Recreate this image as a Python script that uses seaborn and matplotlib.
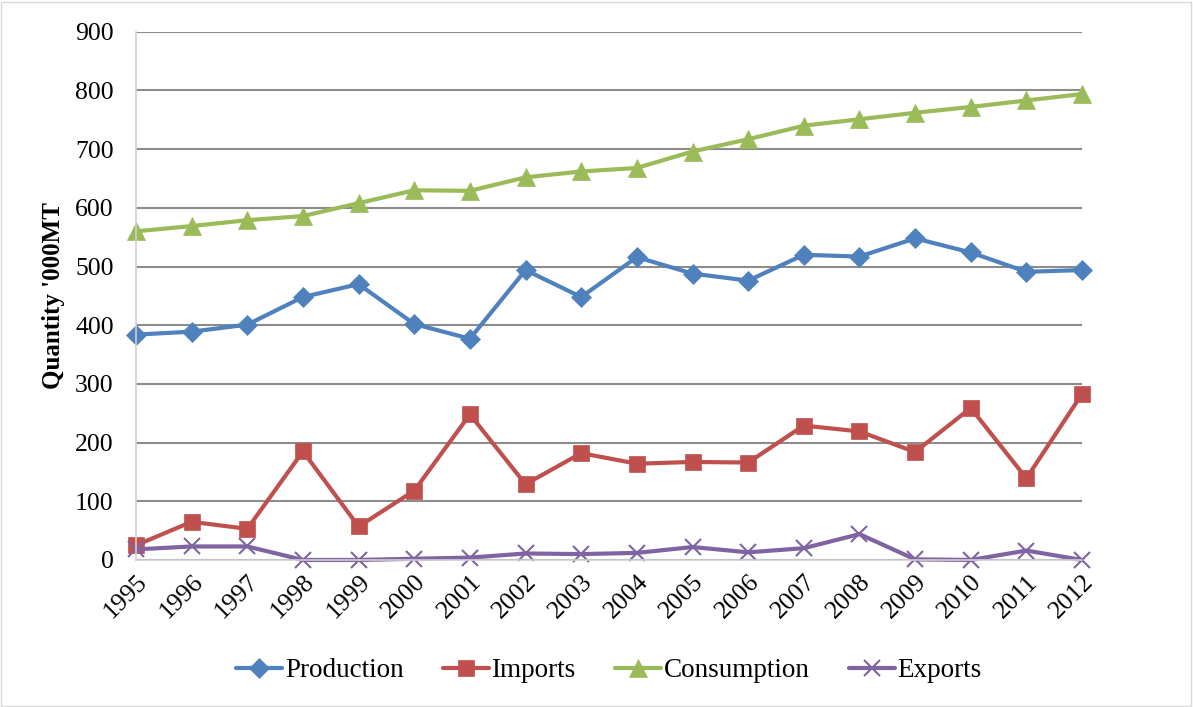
import pandas as pd
import matplotlib.pyplot as plt
import matplotlib.patches as patches
import seaborn as sns

# ── Data ────────────────────────────────────────────────────────────────────
years = list(range(1995, 2013))
production = [384, 389, 401, 448, 470, 402, 377, 494, 448, 516,
              488, 476, 520, 517, 548, 524, 491, 494]
imports = [25, 65, 53, 185, 57, 118, 248, 129, 182, 164,
           167, 166, 229, 219, 184, 259, 139, 283]
consumption = [560, 569, 579, 586, 608, 630, 629, 652, 662, 668,
               696, 717, 740, 751, 762, 772, 783, 794]
exports = [18, 23, 23, 0, 0, 2, 4, 11, 10, 12,
           22, 13, 20, 44, 1, 0, 16, 0]

series_names = ['Production', 'Imports', 'Consumption', 'Exports']
colors = ['#4F81BD', '#C0504D', '#9BBB59', '#8064A2']
markers = ['D', 's', '^', 'x']
msizes = [10.5, 12, 12.5, 12]

df = pd.DataFrame({'year': years, 'Production': production, 'Imports': imports,
                   'Consumption': consumption, 'Exports': exports})
long_df = df.melt(id_vars='year', var_name='series', value_name='qty')

# ── Plot ─────────────────────────────────────────────────────────────────────
sns.set_style('white')
plt.rcParams['font.family'] = ['Liberation Serif', 'DejaVu Serif']
plt.rcParams['text.color'] = 'black'
plt.rcParams['xtick.color'] = 'black'
plt.rcParams['ytick.color'] = 'black'
plt.rcParams['axes.labelcolor'] = 'black'

fig = plt.figure(figsize=(11.93, 7.07), dpi=100)
ax = fig.add_axes([0.114, 0.208, 0.793, 0.747])

for name, color, mk, ms in zip(series_names, colors, markers, msizes):
    sub = long_df[long_df['series'] == name]
    sns.lineplot(data=sub, x='year', y='qty', ax=ax, color=color, label=name,
                 marker=mk, markersize=ms, linewidth=3, clip_on=False,
                 markeredgecolor=color, markeredgewidth=1.5 if mk == 'x' else 0.5)

ax.set_xlim(1995, 2012)
ax.set_ylim(0, 900)
ax.set_yticks(range(0, 901, 100))
ax.set_xticks(years)
ax.set_xticklabels([str(y) for y in years], rotation=45, ha='right',
                   rotation_mode='anchor', fontsize=18.5)
ax.tick_params(axis='y', labelsize=18.5, length=0, pad=16)
ax.tick_params(axis='x', length=0, pad=8)
ax.yaxis.grid(True, color='#8c8c8c', linewidth=1.5)
ax.set_axisbelow(True)
ax.set_xlabel('')
ax.set_ylabel("Quantity '000MT", fontsize=18, fontweight='bold', labelpad=7)

for side in ['top', 'right']:
    ax.spines[side].set_visible(False)
for side in ['left', 'bottom']:
    ax.spines[side].set_color('#d0d0d0')
    ax.spines[side].set_linewidth(1.2)

ax.legend(loc='upper center', bbox_to_anchor=(0.5, -0.14), ncol=4,
          frameon=False, fontsize=19.5, handlelength=1.7, handletextpad=0.1,
          columnspacing=1.45)

# thin border around the whole chart area
fig.patches.append(patches.Rectangle((0.001, 0.002), 0.997, 0.995,
                                     transform=fig.transFigure, fill=False,
                                     edgecolor='#d9d9d9', linewidth=1))

plt.savefig('out.png', dpi=100, facecolor='white')
